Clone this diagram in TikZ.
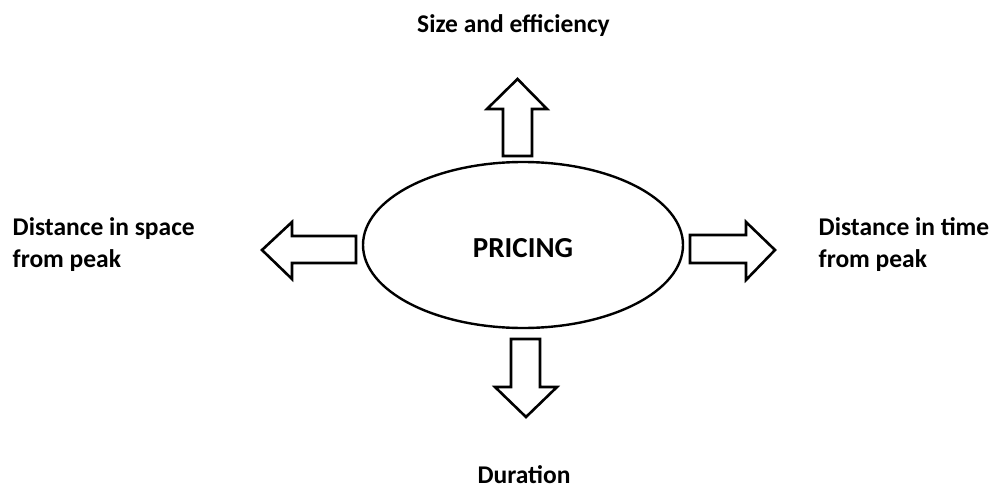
\documentclass[tikz,border=0pt]{standalone}
\usepackage{fontspec}
\setmainfont{Carlito}
\usetikzlibrary{shapes.geometric}
\begin{document}
\begin{tikzpicture}[x=1pt,y=-1pt,
  blockarrow/.style={draw=black,line width=2.6pt,line join=miter,fill=white},
  label/.style={font=\bfseries\fontsize{25.5}{32}\selectfont,inner sep=0pt},
  hub/.style={ellipse,draw=black,line width=2.4pt,minimum width=320pt,minimum height=166pt,inner sep=0pt}]
\useasboundingbox (0,0) rectangle (994,490);
% central ellipse
\node[hub] (pricing) at (523,245) {};
\node[font=\bfseries\fontsize{29}{29}\selectfont,inner sep=0pt,anchor=base] (ptext) at (523,257) {PRICING};
% four outward block arrows
\draw[blockarrow] (503,156) -- (503,109) -- (487,109) -- (517.5,79) -- (547,109) -- (532,109) -- (532,156) -- cycle;
\draw[blockarrow] (356,236) -- (292,236) -- (292,222) -- (262,250) -- (292,279) -- (292,263) -- (356,263) -- cycle;
\draw[blockarrow] (690,235) -- (746,235) -- (746,222) -- (775,250) -- (746,280) -- (746,263) -- (690,263) -- cycle;
\draw[blockarrow] (511,339) -- (511,387) -- (495,387) -- (526,417) -- (557,387) -- (540,387) -- (540,339) -- cycle;
% factor labels
\node[label,anchor=base] (size) at (513.5,32) {Size and efficiency};
\node[label,anchor=base west,align=left] (space) at (12.5,267) {Distance in space\\from peak};
\node[label,anchor=base west,align=left] (time) at (818.5,267) {Distance in time\\from peak};
\node[label,anchor=base] (dur) at (524,483) {Duration};
\end{tikzpicture}
\end{document}
